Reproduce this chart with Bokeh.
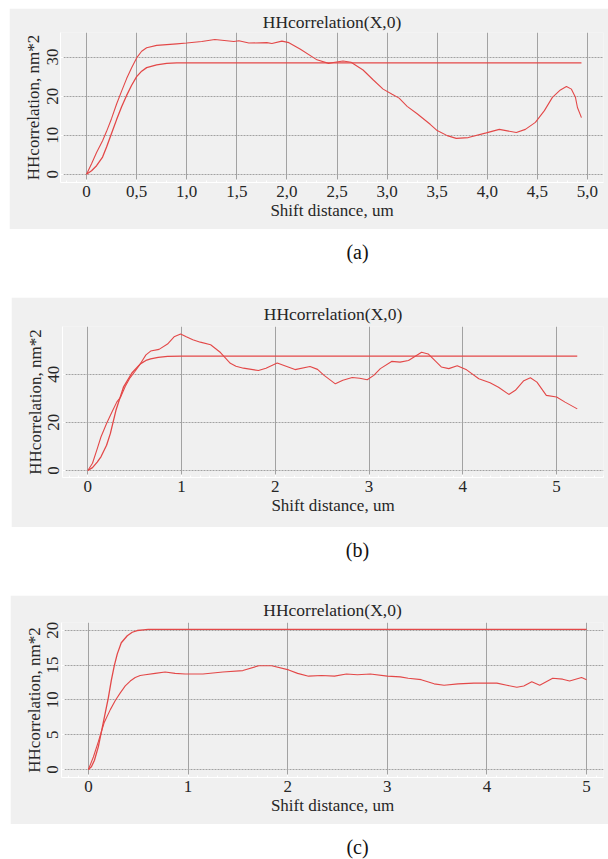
from bokeh.plotting import figure
from bokeh.layouts import column
from bokeh.models import Range1d, FixedTicker, Label
from bokeh.embed import file_html
from bokeh.resources import INLINE

# ---------------- data ----------------
title_text = "HHcorrelation(X,0)"
x_label = "Shift distance, um"
y_label = "HHcorrelation, nm*2"

# panel (a)
a_fit_x = [0, 0.05, 0.1, 0.16, 0.2, 0.25, 0.3, 0.35, 0.4, 0.45, 0.5, 0.55, 0.6, 0.7, 0.8, 0.9, 1.0, 4.94]
a_fit_y = [0, 0.9, 2.2, 4.4, 7.0, 10.5, 14.0, 17.3, 20.2, 22.8, 25.0, 26.4, 27.3, 28.0, 28.4, 28.5, 28.5, 28.5]
a_meas_x = [0, 0.05, 0.1, 0.16, 0.2, 0.25, 0.3, 0.35, 0.4, 0.45, 0.5, 0.55, 0.6, 0.7, 0.8, 0.9, 1.0, 1.15,
            1.28, 1.47, 1.52, 1.62, 1.80, 1.85, 1.95, 2.02, 2.135, 2.30, 2.415, 2.48, 2.56, 2.64, 2.76, 2.86,
            2.96, 3.05, 3.12, 3.20, 3.30, 3.43, 3.50, 3.60, 3.69, 3.81, 3.99, 4.12, 4.29, 4.38, 4.48, 4.57,
            4.65, 4.73, 4.79, 4.84, 4.88, 4.90, 4.94]
a_meas_y = [0, 2.7, 5.6, 8.6, 11.0, 14.3, 18.0, 21.3, 24.5, 27.3, 29.8, 31.5, 32.4, 33.0, 33.2, 33.4, 33.6, 34.0,
            34.5, 34.0, 34.2, 33.6, 33.7, 33.5, 34.1, 33.7, 32.0, 29.3, 28.4, 28.7, 29.0, 28.7, 26.7, 24.2,
            21.8, 20.5, 19.5, 17.4, 15.5, 12.8, 11.2, 9.9, 9.2, 9.4, 10.6, 11.5, 10.7, 11.5, 13.3, 16.3,
            19.7, 21.6, 22.5, 21.8, 19.7, 17.1, 14.5]
a_xticks = [0, 0.5, 1.0, 1.5, 2.0, 2.5, 3.0, 3.5, 4.0, 4.5, 5.0]
a_xlabels = ["0", "0,5", "1,0", "1,5", "2,0", "2,5", "3,0", "3,5", "4,0", "4,5", "5,0"]
a_yticks = [0, 10, 20, 30]

# panel (b)
b_fit_x = [0, 0.05, 0.1, 0.14, 0.2, 0.24, 0.3, 0.38, 0.47, 0.56, 0.62, 0.67, 0.75, 0.85, 1.0, 5.22]
b_fit_y = [0, 1.2, 3.5, 5.7, 10.5, 15.3, 25.0, 34.6, 40.5, 44.3, 45.7, 46.4, 47.0, 47.4, 47.5, 47.5]
b_meas_x = [0, 0.05, 0.1, 0.14, 0.2, 0.26, 0.31, 0.35, 0.4, 0.45, 0.5, 0.56, 0.62, 0.67, 0.76, 0.85, 0.92,
            0.99, 1.05, 1.12, 1.2, 1.31, 1.415, 1.52, 1.58, 1.66, 1.82, 1.9, 2.02, 2.1, 2.21, 2.37, 2.45,
            2.52, 2.64, 2.72, 2.82, 2.9, 2.98, 3.05, 3.12, 3.24, 3.33, 3.42, 3.56, 3.63, 3.77, 3.85, 3.94,
            4.04, 4.17, 4.29, 4.38, 4.49, 4.56, 4.65, 4.72, 4.79, 4.89, 5.0, 5.09, 5.22]
b_meas_y = [0, 3.0, 9.0, 13.9, 19.5, 24.5, 28.5, 30.5, 35.0, 38.5, 41.0, 44.3, 48.0, 49.6, 50.3, 52.5, 55.5,
            56.7, 55.5, 54.3, 53.3, 52.2, 49.0, 44.5, 43.3, 42.5, 41.5, 42.5, 44.6, 43.5, 41.9, 43.2, 42.0,
            39.5, 36.0, 37.5, 38.6, 38.3, 37.7, 39.5, 42.3, 45.3, 45.0, 45.7, 49.1, 48.4, 43.0, 42.3, 43.5,
            41.8, 38.1, 36.4, 34.6, 31.6, 33.3, 37.3, 38.5, 36.7, 31.2, 30.5, 28.4, 25.6]
b_xticks = [0, 1, 2, 3, 4, 5]
b_yticks = [0, 20, 40]

# panel (c)
c_fit_x = [0, 0.03, 0.06, 0.1, 0.16, 0.2, 0.23, 0.26, 0.29, 0.33, 0.39, 0.44, 0.49, 0.55, 0.6, 5.0]
c_fit_y = [0, 0.4, 1.3, 3.3, 7.5, 10.3, 12.8, 14.9, 16.6, 18.2, 19.2, 19.7, 19.95, 20.05, 20.1, 20.1]
c_meas_x = [0, 0.05, 0.1, 0.16, 0.22, 0.27, 0.32, 0.37, 0.42, 0.47, 0.52, 0.57, 0.67, 0.77, 0.87, 0.97,
            1.15, 1.35, 1.55, 1.71, 1.84, 2.01, 2.1, 2.21, 2.34, 2.47, 2.59, 2.70, 2.83, 3.0, 3.13, 3.21,
            3.34, 3.47, 3.57, 3.71, 3.87, 4.10, 4.20, 4.30, 4.37, 4.45, 4.53, 4.66, 4.76, 4.83, 4.95, 5.0]
c_meas_y = [0, 1.8, 4.0, 6.8, 8.6, 9.9, 11.0, 12.0, 12.7, 13.2, 13.5, 13.6, 13.8, 14.0, 13.8, 13.7,
            13.7, 14.0, 14.2, 14.9, 14.9, 14.3, 13.8, 13.4, 13.5, 13.4, 13.7, 13.6, 13.7, 13.4, 13.3, 13.1,
            12.9, 12.3, 12.1, 12.3, 12.4, 12.4, 12.1, 11.8, 12.0, 12.6, 12.1, 13.1, 12.97, 12.7, 13.2, 12.9]
c_xticks = [0, 1, 2, 3, 4, 5]
c_yticks = [0, 5, 10, 15, 20]

captions = ["(a)", "(b)", "(c)"]

# ---------------- styling ----------------
FONT = "Liberation Serif"
BG = "#f0f0f0"
LINE = "#e34848"
TXT = "#262626"


def panel(width, height, mleft, xr, yr, borders, fit, meas, xticks, yticks, xlabels=None, tstand=5):
    bl, br, bt, bb = borders
    p = figure(width=width, height=height, x_range=Range1d(*xr), y_range=Range1d(*yr),
               output_backend="svg", toolbar_location=None,
               min_border_left=bl, min_border_right=br, min_border_top=bt, min_border_bottom=bb,
               margin=(0, 0, 0, mleft))
    p.background_fill_color = BG
    p.border_fill_color = BG
    p.outline_line_color = None
    p.title.text = title_text
    p.title.text_font = FONT
    p.title.text_font_size = "17.5px"
    p.title.text_font_style = "normal"
    p.title.text_color = TXT
    p.title.align = "center"
    p.title.standoff = tstand
    p.title.offset = -16

    p.xaxis.ticker = FixedTicker(ticks=xticks, minor_ticks=[t / 10 for t in range(-3, 56)])
    p.yaxis.ticker = FixedTicker(ticks=yticks)
    if xlabels:
        p.xaxis.major_label_overrides = {t: l for t, l in zip(xticks, xlabels)}
    p.xaxis.axis_label = x_label
    p.yaxis.axis_label = y_label
    for ax in (p.xaxis[0], p.yaxis[0]):
        ax.axis_label_text_font = FONT
        ax.axis_label_text_font_size = "17px"
        ax.axis_label_text_font_style = "normal"
        ax.axis_label_text_color = TXT
        ax.major_label_text_font = FONT
        ax.major_label_text_font_size = "17px"
        ax.major_label_text_color = TXT
        ax.axis_line_color = "white"
        ax.axis_line_width = 1
        ax.major_tick_line_color = "white"
        ax.major_tick_in = 3
        ax.major_tick_out = 0
        ax.minor_tick_line_color = "white"
        ax.minor_tick_in = 2
        ax.minor_tick_out = 0
        ax.major_label_standoff = 3
        ax.axis_label_standoff = 1
    p.yaxis.major_label_orientation = "vertical"
    p.grid.grid_line_color = "#a2a2a2"
    p.grid.grid_line_width = 1
    p.ygrid.grid_line_dash = "2 1"

    p.line(fit[0], fit[1], line_color=LINE, line_width=1.3)
    p.line(meas[0], meas[1], line_color=LINE, line_width=1.1)
    return p


def caption(text, height, offset):
    c = figure(width=608, height=height, x_range=Range1d(0, 1), y_range=Range1d(0, 1),
               output_backend="svg", toolbar_location=None, min_border=0)
    c.axis.visible = False
    c.grid.visible = False
    c.outline_line_color = None
    c.background_fill_color = "white"
    c.border_fill_color = "white"
    c.add_layout(Label(x=306, y=height - offset, x_units="screen", y_units="screen", text=text,
                       text_align="center", text_baseline="middle", text_font=FONT,
                       text_font_size="20px", text_color="#111"))
    return c


pa = panel(599, 221, 9, (-0.26, 5.16), (-2.1, 36.3), (48, 2, 24, 47),
           (a_fit_x, a_fit_y), (a_meas_x, a_meas_y), a_xticks, a_yticks, a_xlabels, tstand=2)
pa.margin = (8, 0, 0, 9)
pb = panel(597, 230, 11, (-0.27, 5.5), (-2.9, 59.8), (51, 5, 29, 50),
           (b_fit_x, b_fit_y), (b_meas_x, b_meas_y), b_xticks, b_yticks)
pc = panel(598, 229, 10, (-0.27, 5.17), (-1.14, 21.1), (47, 2, 27, 47),
           (c_fit_x, c_fit_y), (c_meas_x, c_meas_y), c_xticks, c_yticks)

ca = caption(captions[0], 68, 22)
cb = caption(captions[1], 68, 22)
cc = caption(captions[2], 35, 22)

layout = column(pa, ca, pb, cb, pc, cc, spacing=0)
open("out.html", "w").write(file_html(layout, INLINE))
